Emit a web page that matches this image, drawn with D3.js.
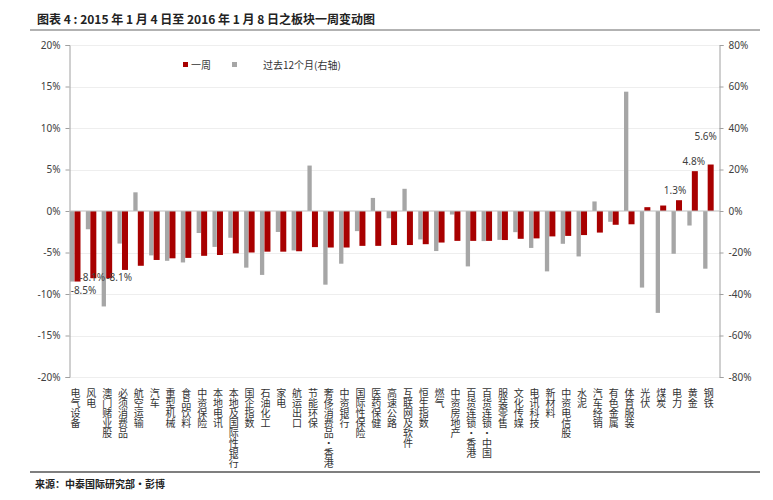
<!DOCTYPE html>
<html><head><meta charset="utf-8">
<script src="https://cdn.jsdelivr.net/npm/d3@7"></script>
<style>
html,body{margin:0;padding:0;background:#fff;}
svg{display:block;font-family:"Noto Sans CJK SC","Noto Sans",sans-serif;}
.vlab{writing-mode:vertical-rl;text-orientation:upright;}
</style></head>
<body>
<svg id="chart" width="773" height="500"></svg>
<script>
const categories = ["电气设备","风电","澳门赌业股","必须消费品","航空运输","汽车","重型机械","食品饮料","中资保险","本地电讯","本地及国际性银行","国企指数","石油化工","家电","航运出口","节能环保","奢侈消费品-香港","中资银行","国际性保险","医药保健","高速公路","互联网及软件","恒生指数","燃气","中资房地产","百货连锁-香港","百货连锁-中国","服装零售","文化传媒","电讯科技","新材料","中资电信股","水泥","汽车经销","有色金属","体育服装","光伏","煤炭","电力","黄金","钢铁"];
const weekValues = [-8.5,-8.1,-8.1,-7.1,-6.6,-5.9,-5.7,-5.65,-5.4,-5.3,-5.1,-5.0,-4.9,-4.9,-4.85,-4.35,-4.4,-4.4,-4.2,-4.2,-4.1,-4.1,-4.0,-3.8,-3.6,-3.6,-3.6,-3.5,-3.35,-3.3,-3.06,-3.0,-2.9,-2.6,-1.66,-1.6,0.46,0.66,1.3,4.8,5.6];
const yearValues = [-34,-8.8,-46,-15.7,9,-21.4,-24,-24.8,-10.6,-17.3,-12.9,-27.3,-30.8,-10.1,-19,21.9,-35.5,-25.4,-9.7,6.3,-3.5,10.7,-13.7,-19.3,-1.7,-26.7,-14.5,-13.9,-10.2,-17.8,-29.1,-15.8,-21.9,4.6,-5.2,57.5,-36.9,-49.1,-20.6,-7.0,-27.8];
const leftTicks = [-20,-15,-10,-5,0,5,10,15,20];
const rightTicks = [-80,-60,-40,-20,0,20,40,60,80];
const labeled = {"电气设备":"-8.5%","风电":"-8.1%","澳门赌业股":"-8.1%","电力":"1.3%","黄金":"4.8%","钢铁":"5.6%"};
const labelShift = {"电气设备":[6,12],"风电":[-1,3],"澳门赌业股":[10,3],"电力":[-4,-6],"黄金":[-1,-6],"钢铁":[-5,-25]};
const seriesNames = ["一周","过去12个月(右轴)"];
const colors = {week:"#A80000", year:"#A6A6A6"};

const svg = d3.select("#chart");
const L = 69.5, R = 719.5, T = 45, B = 377;
const x = d3.scaleBand().domain(categories).range([L, R - 1]).paddingInner(0).paddingOuter(0);
const yL = d3.scaleLinear().domain([-20,20]).range([B,T]);
const yR = d3.scaleLinear().domain([-80,80]).range([B,T]);

// title
svg.append("text").attr("x",37).attr("y",24).attr("font-size",12).attr("font-weight","bold").attr("fill","#222")
  .text("图表 4 : 2015 年 1 月 4 日至 2016 年 1 月 8 日之板块一周变动图");
svg.append("line").attr("x1",30).attr("x2",760).attr("y1",30).attr("y2",30).attr("stroke","#666").attr("stroke-width",1);

// gridlines
svg.append("g").selectAll("line").data(leftTicks.filter(d=>d!==0)).join("line")
  .attr("x1",L).attr("x2",R).attr("y1",d=>Math.round(yL(d))+0.5).attr("y2",d=>Math.round(yL(d))+0.5)
  .attr("stroke","#EEEEEE").attr("stroke-width",1);

// left axis
const gL = svg.append("g").attr("transform",`translate(${L},0)`)
  .call(d3.axisLeft(yL).tickValues(leftTicks).tickFormat(d=>d+"%").tickSize(4).tickPadding(5));
// right axis
const gR = svg.append("g").attr("transform",`translate(${R},0)`)
  .call(d3.axisRight(yR).tickValues(rightTicks).tickFormat(d=>d+"%").tickSize(4).tickPadding(5));
[gL,gR].forEach(g=>{
  g.select(".domain").attr("stroke","#A0A0A0");
  g.selectAll(".tick line").attr("stroke","#A0A0A0");
  g.selectAll(".tick text").attr("fill","#404040").attr("font-size",10).attr("font-family","'Noto Sans','DejaVu Sans',sans-serif");
});

// bars
svg.append("g").selectAll("rect").data(categories).join("rect")
  .attr("x",(c)=>x(c)+0.5).attr("width",4.3)
  .attr("y",(c,i)=>Math.min(yR(yearValues[i]),yR(0)))
  .attr("height",(c,i)=>Math.abs(yR(yearValues[i])-yR(0)))
  .attr("fill",colors.year);
svg.append("g").selectAll("rect").data(categories).join("rect")
  .attr("x",(c)=>x(c)+5).attr("width",6)
  .attr("y",(c,i)=>Math.min(yL(weekValues[i]),yL(0)))
  .attr("height",(c,i)=>Math.abs(yL(weekValues[i])-yL(0)))
  .attr("fill",colors.week);

// zero line
svg.append("line").attr("x1",L).attr("x2",R).attr("y1",yL(0)).attr("y2",yL(0)).attr("stroke","#BFBFBF").attr("stroke-width",1);

// data labels
svg.append("g").selectAll("text").data(categories.filter(c=>labeled[c])).join("text")
  .attr("x",c=>x(c)+8+labelShift[c][0])
  .attr("y",c=>yL(weekValues[categories.indexOf(c)])+labelShift[c][1])
  .attr("text-anchor","middle").attr("font-size",10).attr("fill","#404040")
  .attr("font-family","'Noto Sans','DejaVu Sans',sans-serif")
  .text(c=>labeled[c]);

// category labels (vertical)
svg.append("g").selectAll("text").data(categories).join("text")
  .attr("class","vlab")
  .attr("x",c=>x(c)+6).attr("y",388)
  .attr("font-size",10).attr("fill","#333")
  .text(c=>c.replace("-","·"));

// legend
svg.append("rect").attr("x",183).attr("y",62).attr("width",5).attr("height",5).attr("fill",colors.week);
svg.append("text").attr("x",191).attr("y",69).attr("font-size",10).attr("fill","#333").text(seriesNames[0]);
svg.append("rect").attr("x",232).attr("y",62).attr("width",5).attr("height",5).attr("fill",colors.year);
svg.append("text").attr("x",263).attr("y",69).attr("font-size",10).attr("fill","#333").text(seriesNames[1]);

// footer
svg.append("line").attr("x1",30).attr("x2",760).attr("y1",472).attr("y2",472).attr("stroke","#555").attr("stroke-width",1.5);
svg.append("text").attr("x",35).attr("y",488).attr("font-size",10).attr("font-weight","bold").attr("fill","#222")
  .text("来源：中泰国际研究部・彭博");
</script>
</body></html>
